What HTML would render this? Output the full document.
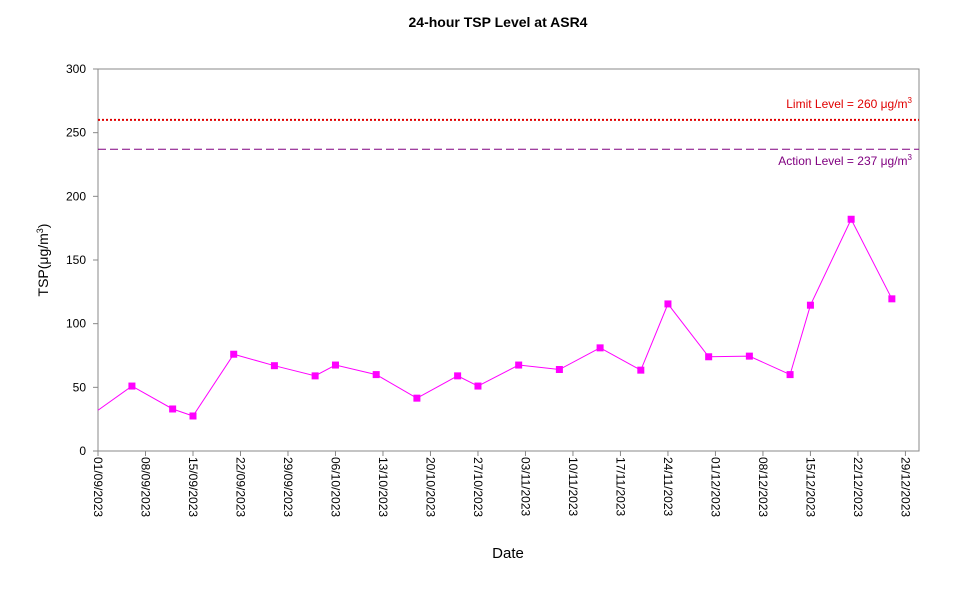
<!DOCTYPE html>
<html><head><meta charset="utf-8"><style>
body{margin:0;background:#fff}
svg text{font-family:"Liberation Sans",Arial,sans-serif}
</style></head><body>
<svg id="chart" width="967" height="590">
<text x="498" y="27" text-anchor="middle" font-size="14" font-weight="bold">24-hour TSP Level at ASR4</text>
<rect x="98" y="69" width="821" height="382" fill="none" stroke="#888"/>
<g id="yaxis"></g>
<g id="xaxis"></g>
<text transform="translate(48,260) rotate(-90)" text-anchor="middle" font-size="14">TSP(μg/m<tspan font-size="9" dy="-5">3</tspan><tspan dy="5">)</tspan></text>
<text x="508" y="558" text-anchor="middle" font-size="15">Date</text>
<g id="refs"></g>
<g id="series"></g>
</svg>
<script>
const dayOffsets=[0,5,11,14,20,26,32,35,41,47,53,56,62,68,74,80,84,90,96,102,105,111,117];
const tspValues=[32,51,33,27.5,76,67,59,67.5,60,41.5,59,51,67.5,64,81,63.5,115.5,74,74.5,60,114.5,182,119.5];
const yTicks=[0,50,100,150,200,250,300];
const xTickLabels=["01/09/2023","08/09/2023","15/09/2023","22/09/2023","29/09/2023","06/10/2023","13/10/2023","20/10/2023","27/10/2023","03/11/2023","10/11/2023","17/11/2023","24/11/2023","01/12/2023","08/12/2023","15/12/2023","22/12/2023","29/12/2023"];
const limitLevel=260, actionLevel=237;
const NS="http://www.w3.org/2000/svg";
const X0=98,X1=919,Y0=451,Y1=69,DAYS=121,YMAX=300;
const xs=d=>X0+d/DAYS*(X1-X0);
const ys=v=>Y0-v/YMAX*(Y0-Y1);
function mk(tag,attrs,parent){const e=document.createElementNS(NS,tag);for(const k in attrs)e.setAttribute(k,attrs[k]);parent.appendChild(e);return e;}
const ya=document.getElementById('yaxis');
yTicks.forEach(v=>{
 const t=mk('line',{x1:X0-5,x2:X0,y1:ys(v),y2:ys(v),stroke:'#888'},ya);
 
 
 const l=mk('text',{x:X0-12,y:ys(v)+4,'text-anchor':'end','font-size':12},ya);
 l.textContent=v;
 
 
});
const xa=document.getElementById('xaxis');
xTickLabels.forEach((s,i)=>{
 const x=xs(i*7);
 const t=mk('line',{x1:x,x2:x,y1:Y0,y2:Y0+5,stroke:'#888'},xa);
 
 
 const l=mk('text',{transform:`translate(${x-4},${Y0+6}) rotate(90)`,'font-size':12},xa);
 l.textContent=s;
 
 
});
const refs=document.getElementById('refs');
const ll=mk('line',{x1:X0,x2:X1,y1:ys(limitLevel),y2:ys(limitLevel),stroke:'#e00000','stroke-width':2,'stroke-dasharray':'2,2'},refs);


const lt=mk('text',{x:912,y:ys(limitLevel)-12,'text-anchor':'end','font-size':12,fill:'#e00000'},refs);
lt.innerHTML='Limit Level  = 260 μg/m<tspan font-size="8" dy="-5">3</tspan>';


const al=mk('line',{x1:X0,x2:X1,y1:ys(actionLevel),y2:ys(actionLevel),stroke:'#800080','stroke-width':1,'stroke-dasharray':'8,4'},refs);


const at=mk('text',{x:912,y:ys(actionLevel)+16,'text-anchor':'end','font-size':12,fill:'#800080'},refs);
at.innerHTML='Action Level  = 237 μg/m<tspan font-size="8" dy="-5">3</tspan>';


const se=document.getElementById('series');
const pts=dayOffsets.map((d,i)=>xs(d)+','+ys(tspValues[i])).join(' ');
const pl=mk('polyline',{points:pts,fill:'none',stroke:'#ff00ff','stroke-width':1},se);


dayOffsets.forEach((d,i)=>{
 if(i===0)return;
 const r=mk('rect',{x:xs(d)-3.5,y:ys(tspValues[i])-3.5,width:7,height:7,fill:'#ff00ff'},se);
 
 
});
</script>
</body></html>
